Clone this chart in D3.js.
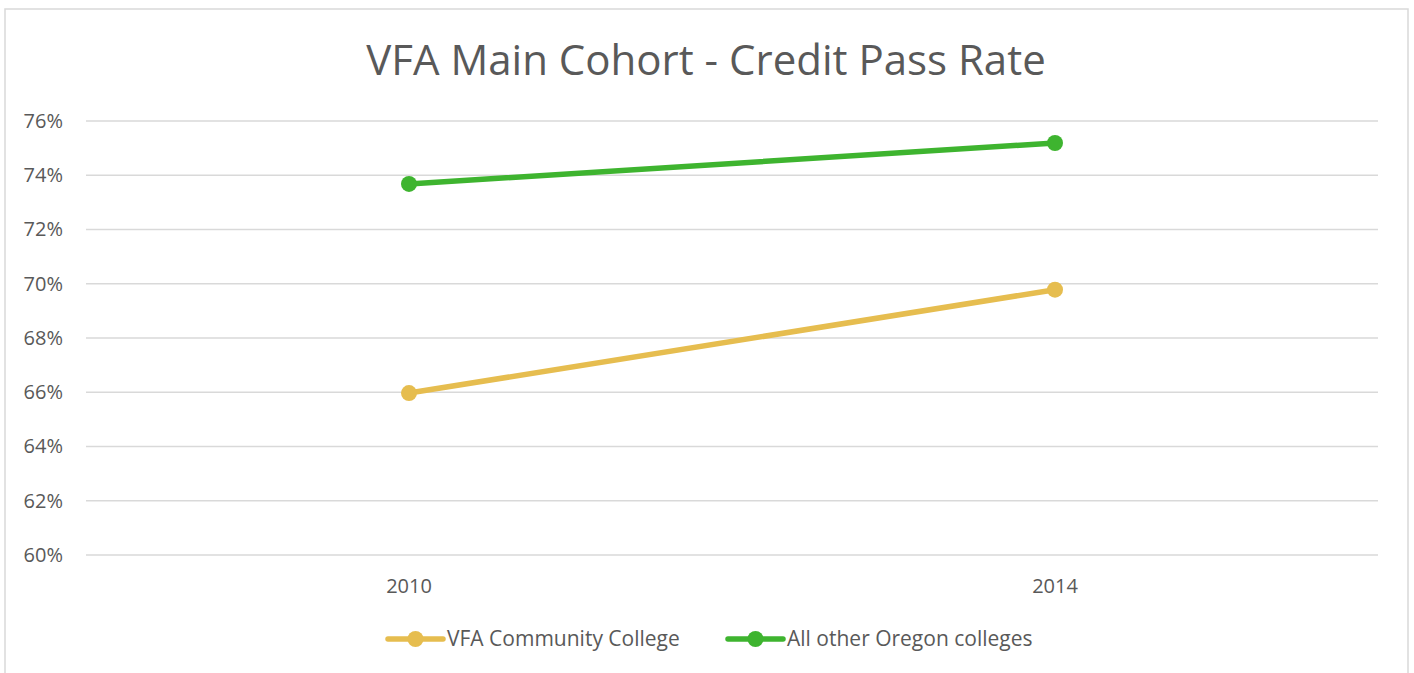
<!DOCTYPE html>
<html><head><meta charset="utf-8">
<script src="https://cdn.jsdelivr.net/npm/d3@7"></script>
<style>body{margin:0;background:#fff;}svg{display:block;font-family:"Open Sans",sans-serif;}</style>
</head><body>
<svg id="c" width="1414" height="673"></svg>
<script>
const categories = ["2010", "2014"];
const seriesNames = ["VFA Community College", "All other Oregon colleges"];
const vfaValues = [0.6597, 0.6978];
const oregonValues = [0.7368, 0.7519];
const yTicks = [0.60, 0.62, 0.64, 0.66, 0.68, 0.70, 0.72, 0.74, 0.76];
const colors = ["#E6BD4F", "#3EB42F"];

const svg = d3.select("#c");
svg.append("rect").attr("x",5).attr("y",9).attr("width",1403).attr("height",700)
  .attr("fill","#fff").attr("stroke","#d9d9d9").attr("stroke-width",1.5);

svg.append("text").attr("x",706).attr("y",75).attr("text-anchor","middle")
  .attr("font-size",42).attr("fill","#595959")
  .text("VFA Main Cohort - Credit Pass Rate");

const x = d3.scaleBand().domain(categories).range([86,1378]);
const y = d3.scaleLinear().domain([0.60,0.76]).range([555,121]);

const grid = svg.append("g");
grid.selectAll("line").data(yTicks).join("line")
  .attr("x1",86).attr("x2",1378).attr("y1",d=>y(d)).attr("y2",d=>y(d))
  .attr("stroke","#d9d9d9").attr("stroke-width",1.5);

const yAxis = svg.append("g").attr("transform","translate(63,0)")
  .call(d3.axisLeft(y).tickValues(yTicks).tickFormat(d3.format(".0%")).tickSize(0).tickPadding(0));
yAxis.select(".domain").remove();
yAxis.selectAll("text").attr("font-size",20).attr("fill","#595959").attr("font-family","Open Sans");

const xAxis = svg.append("g").attr("transform","translate(0,586)")
  .call(d3.axisBottom(x).tickSize(0).tickPadding(0));
xAxis.select(".domain").remove();
xAxis.selectAll("text").attr("font-size",20).attr("fill","#595959").attr("font-family","Open Sans")
  .attr("dy","0.35em");

const series = [vfaValues, oregonValues];
const line = d3.line().x((d,i)=>x(categories[i])+x.bandwidth()/2).y(d=>y(d));
series.forEach((vals,si)=>{
  svg.append("path").datum(vals).attr("d",line).attr("fill","none")
    .attr("stroke",colors[si]).attr("stroke-width",5.5).attr("stroke-linecap","round");
  svg.selectAll(null).data(vals).join("circle")
    .attr("cx",(d,i)=>x(categories[i])+x.bandwidth()/2).attr("cy",d=>y(d))
    .attr("r",8).attr("fill",colors[si]);
});

const legendX = [388, 728];
seriesNames.forEach((n,i)=>{
  const g = svg.append("g").attr("transform",`translate(${legendX[i]},639)`);
  g.append("line").attr("x1",0).attr("x2",55).attr("stroke",colors[i]).attr("stroke-width",5.5).attr("stroke-linecap","round");
  g.append("circle").attr("cx",27.5).attr("r",8).attr("fill",colors[i]);
  g.append("text").attr("x",59).attr("dy","0.35em").attr("font-size",21).attr("fill","#595959").text(n);
});
</script>
</body></html>
